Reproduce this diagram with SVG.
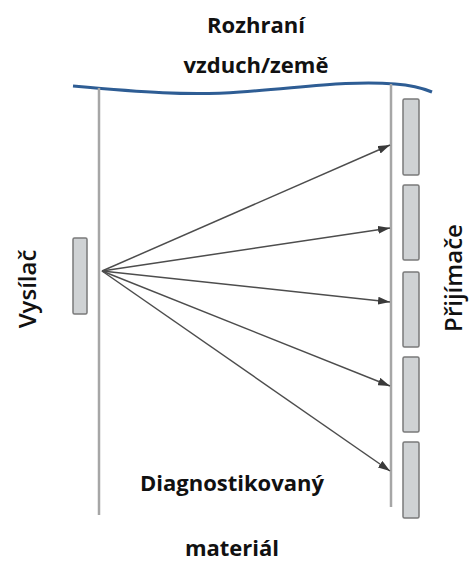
<svg xmlns="http://www.w3.org/2000/svg" width="470" height="563" viewBox="0 0 470 563">
<style>
.lbl{font-family:"Open Sans","Liberation Sans",sans-serif;font-weight:bold;font-size:22px;fill:#111;text-anchor:middle}
.side{font-family:"Open Sans","Liberation Sans",sans-serif;font-weight:600;font-size:24px;fill:#111;text-anchor:middle}
.wall{stroke:#a6a6a6;stroke-width:2.5;fill:none}
.box{fill:#cfd2d4;stroke:#7a7a7a;stroke-width:1.5}
.ray{stroke:#4d4d4d;stroke-width:1.5;fill:none;marker-end:url(#ah)}
</style>
<defs>
<marker id="ah" viewBox="0 0 12 8" refX="12" refY="4" markerWidth="12" markerHeight="8" markerUnits="userSpaceOnUse" orient="auto">
<path d="M0,0 L12,4 L0,8 Z" fill="#3a3a3a"/>
</marker>
</defs>
<g id="title"><text class="lbl" x="256" y="33">Rozhraní</text><text class="lbl" x="256" y="73">vzduch/země</text></g>
<g id="interface"><path d="M73,86 C140,92 190,96 240,92 C300,88 350,80 395,84 C410,85 420,87 432,92" stroke="#2e5d94" stroke-width="3" fill="none"/></g>
<g id="walls"><line class="wall" x1="99" y1="88" x2="99" y2="515"/><line class="wall" x1="391" y1="84" x2="391" y2="507"/></g>
<g id="transmitter"><rect class="box" x="73" y="238" width="14" height="76" rx="1.5"/><text class="side" transform="translate(36,289) rotate(-90)">Vysílač</text></g>
<g id="receivers">
<rect class="box" x="403" y="99" width="16" height="76" rx="1.5"/>
<rect class="box" x="403" y="185" width="16" height="75" rx="1.5"/>
<rect class="box" x="403" y="272" width="16" height="75" rx="1.5"/>
<rect class="box" x="403" y="357" width="16" height="75" rx="1.5"/>
<rect class="box" x="403" y="442" width="16" height="76" rx="1.5"/>
<text class="side" transform="translate(462,278) rotate(-90)">Přijímače</text>
</g>
<g id="connectors">
<line class="ray" x1="102" y1="271" x2="390" y2="145"/>
<line class="ray" x1="102" y1="271" x2="390" y2="228"/>
<line class="ray" x1="102" y1="271" x2="390" y2="302"/>
<line class="ray" x1="102" y1="271" x2="390" y2="386"/>
<line class="ray" x1="102" y1="271" x2="390" y2="471"/>
</g>
<g id="material"><text class="lbl" x="232" y="491">Diagnostikovaný</text><text class="lbl" x="232" y="556">materiál</text></g>
</svg>
